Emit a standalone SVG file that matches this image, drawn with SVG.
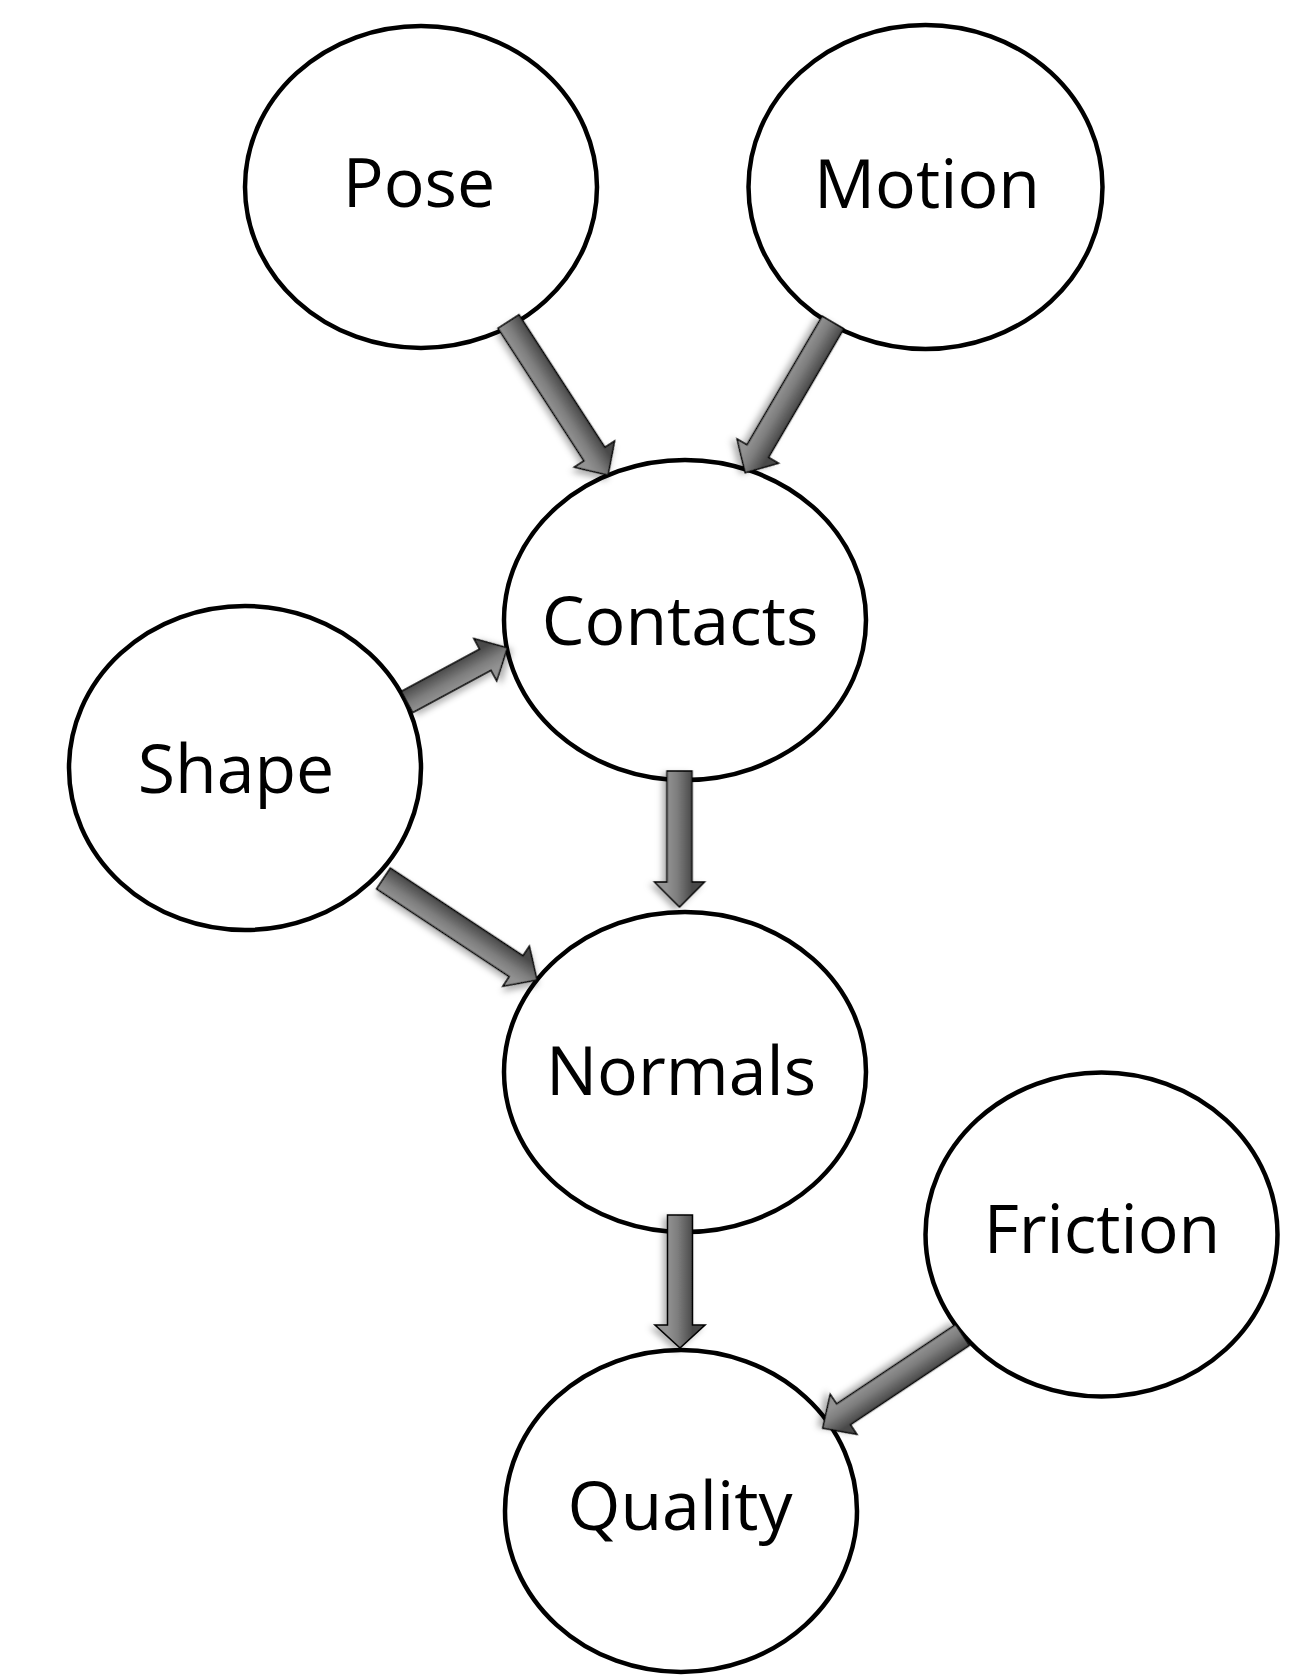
<svg xmlns="http://www.w3.org/2000/svg" width="1292" height="1676" viewBox="0 0 1292 1676">
  <defs>
    <linearGradient id="arrowGrad" x1="0" y1="0" x2="0" y2="1">
      <stop offset="0.25" stop-color="#4a4a4a"/>
      <stop offset="0.55" stop-color="#7e7e7e"/>
      <stop offset="0.75" stop-color="#929292"/>
    </linearGradient>
    <filter id="shadow" x="-30%" y="-30%" width="160%" height="160%">
      <feDropShadow dx="3" dy="4" stdDeviation="3" flood-color="#000" flood-opacity="0.3"/>
    </filter>
  </defs>
  <style>
    .node { fill: #ffffff; stroke: #000000; stroke-width: 4.5; }
    .label { font-family: "Open Sans", "Noto Sans", "Liberation Sans", sans-serif; font-size: 68px; fill: #000000; text-anchor: middle; }
    .arrow { fill: url(#arrowGrad); stroke: #000000; stroke-width: 1.5; stroke-linejoin: miter; filter: url(#shadow); }
  </style>
  <rect x="0" y="0" width="1292" height="1676" fill="#ffffff"/>

  <g id="node-pose">
    <ellipse class="node" cx="421" cy="187" rx="176" ry="161"/>
    <text class="label" x="419" y="207">Pose</text>
  </g>
  <g id="node-motion">
    <ellipse class="node" cx="925.5" cy="187" rx="177" ry="162"/>
    <text class="label" x="927" y="208">Motion</text>
  </g>
  <g id="node-contacts">
    <ellipse class="node" cx="685" cy="620" rx="181" ry="160"/>
    <text class="label" x="680" y="645">Contacts</text>
  </g>
  <g id="node-shape">
    <ellipse class="node" cx="245" cy="768" rx="176" ry="162"/>
    <text class="label" x="236" y="793">Shape</text>
  </g>
  <g id="node-normals">
    <ellipse class="node" cx="685" cy="1072" rx="181" ry="160"/>
    <text class="label" x="681" y="1095">Normals</text>
  </g>
  <g id="node-friction">
    <ellipse class="node" cx="1101.5" cy="1234.5" rx="176" ry="162"/>
    <text class="label" x="1102" y="1253">Friction</text>
  </g>
  <g id="node-quality">
    <ellipse class="node" cx="681" cy="1511" rx="176" ry="161"/>
    <text class="label" x="680" y="1530">Quality</text>
  </g>

  <g id="connectors">
    <path class="arrow" transform="translate(508.5,321.5) rotate(57.05)" d="M0,-12.5 H158 V-24 L183,0 L158,24 V12.5 H0 Z"/>
    <path class="arrow" transform="translate(833,322.5) rotate(120.32)" d="M0,-12.5 H149 V-24 L174,0 L149,24 V12.5 H0 Z"/>
    <path class="arrow" transform="translate(407,702) rotate(-28.37)" d="M0,-12 H89 V-24 L114,0 L89,24 V12 H0 Z"/>
    <path class="arrow" transform="translate(383.5,878.5) rotate(33.47)" d="M0,-12.5 H159 V-24 L184,0 L159,24 V12.5 H0 Z"/>
    <path class="arrow" transform="translate(679.5,771) rotate(90)" d="M0,-12.5 H111 V-25 L136,0 L111,25 V12.5 H0 Z"/>
    <path class="arrow" transform="translate(680,1215) rotate(90)" d="M0,-12.5 H110 V-25 L133,0 L110,25 V12.5 H0 Z"/>
    <path class="arrow" transform="translate(962.5,1335) rotate(146.31)" d="M0,-12.5 H143 V-24 L168,0 L143,24 V12.5 H0 Z"/>
  </g>
</svg>
